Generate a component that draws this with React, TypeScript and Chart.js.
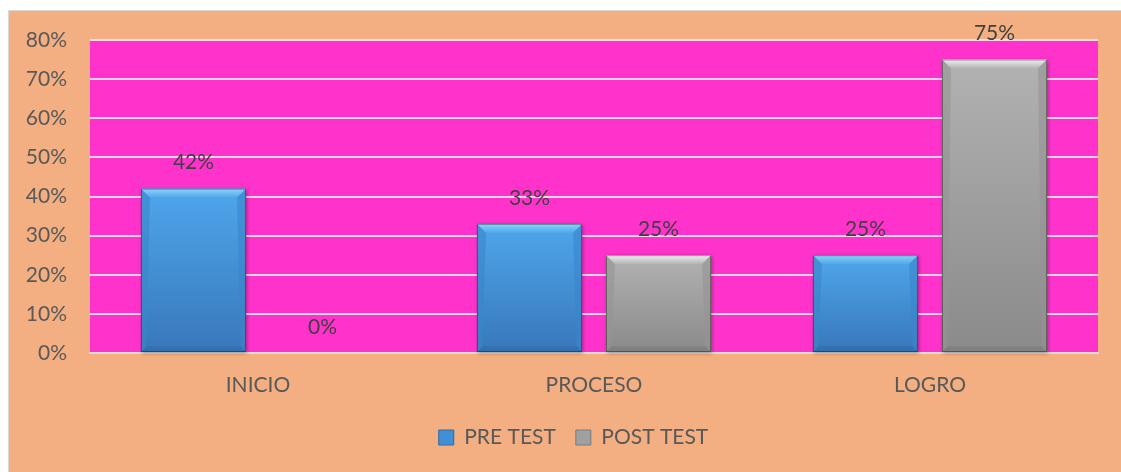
import React, { useEffect, useRef } from "react";
import { Chart, registerables } from "chart.js";

Chart.register(...registerables);

const categories = ["INICIO", "PROCESO", "LOGRO"];
const preTest = [42, 33, 25];
const postTest = [0, 25, 75];
const seriesNames = ["PRE TEST", "POST TEST"];
const yTicks = [0, 10, 20, 30, 40, 50, 60, 70, 80];

const FONT = "Lato, 'Liberation Sans', sans-serif";
const TEXT = "#595959";
const FS = 21;

const palettes = [
  { top: "#4FA6EC", bottom: "#3877BA", bevTop: "#8AD6F8", side: "#3A85CA", bottomBev: "#2F6AA6", solid: "#4190D6" },
  { top: "#B2B2B2", bottom: "#8A8A8A", bevTop: "#F0F0F0", side: "#959595", bottomBev: "#7A7A7A", solid: "#A0A0A0" },
];

const plotBg = {
  id: "plotBg",
  beforeDraw(chart: any) {
    const { ctx, chartArea: a } = chart;
    ctx.save();
    ctx.fillStyle = "#FF33CC";
    ctx.fillRect(a.left, a.top, a.right - a.left, a.bottom - a.top);
    ctx.restore();
  },
};

const legendShift = {
  id: "legendShift",
  afterLayout(chart: any) {
    const lg = chart.legend;
    if (lg) {
      lg.left += 20;
      lg.right += 20;
    }
  },
};

const bevel = {
  id: "bevel",
  afterDatasetsDraw(chart: any) {
    const { ctx } = chart;
    chart.data.datasets.forEach((ds: any, di: number) => {
      const meta = chart.getDatasetMeta(di);
      const p = palettes[di];
      meta.data.forEach((bar: any) => {
        const { x, y, base, width } = bar.getProps(["x", "y", "base", "width"], true);
        const h = base - y;
        if (h <= 1) return;
        const l = x - width / 2;
        const r = x + width / 2;
        const b = Math.min(9, h / 2);
        ctx.save();
        ctx.shadowColor = "rgba(0,0,0,0.35)";
        ctx.shadowBlur = 4;
        ctx.shadowOffsetX = 1;
        ctx.shadowOffsetY = 1;
        const g = ctx.createLinearGradient(0, y, 0, base);
        g.addColorStop(0, p.top);
        g.addColorStop(1, p.bottom);
        ctx.fillStyle = g;
        ctx.fillRect(l, y, width, h);
        ctx.shadowColor = "transparent";
        const gt = ctx.createLinearGradient(0, y, 0, y + b);
        gt.addColorStop(0, p.bevTop);
        gt.addColorStop(1, p.top);
        ctx.fillStyle = gt;
        ctx.beginPath();
        ctx.moveTo(l, y);
        ctx.lineTo(r, y);
        ctx.lineTo(r - b, y + b);
        ctx.lineTo(l + b, y + b);
        ctx.closePath();
        ctx.fill();
        ctx.globalAlpha = 0.6;
        ctx.fillStyle = p.side;
        ctx.beginPath();
        ctx.moveTo(l, y);
        ctx.lineTo(l + b, y + b);
        ctx.lineTo(l + b * 0.6, base - b * 0.6);
        ctx.lineTo(l, base);
        ctx.closePath();
        ctx.fill();
        ctx.beginPath();
        ctx.moveTo(r, y);
        ctx.lineTo(r - b, y + b);
        ctx.lineTo(r - b * 0.6, base - b * 0.6);
        ctx.lineTo(r, base);
        ctx.closePath();
        ctx.fill();
        ctx.fillStyle = p.bottomBev;
        ctx.beginPath();
        ctx.moveTo(l, base);
        ctx.lineTo(l + b * 0.6, base - b * 0.6);
        ctx.lineTo(r - b * 0.6, base - b * 0.6);
        ctx.lineTo(r, base);
        ctx.closePath();
        ctx.fill();
        ctx.globalAlpha = 1;
        ctx.strokeStyle = "rgba(0,0,0,0.35)";
        ctx.lineWidth = 1;
        ctx.strokeRect(l + 0.5, y + 0.5, width - 1, h - 1);
        ctx.restore();
      });
    });
  },
};

const dataLabels = {
  id: "dataLabels",
  afterDraw(chart: any) {
    const { ctx } = chart;
    ctx.save();
    ctx.font = `${FS}px ${FONT}`;
    ctx.fillStyle = "#404040";
    ctx.textAlign = "center";
    ctx.textBaseline = "middle";
    chart.data.datasets.forEach((ds: any, di: number) => {
      const meta = chart.getDatasetMeta(di);
      meta.data.forEach((bar: any, i: number) => {
        const { x, y } = bar.getProps(["x", "y"], true);
        ctx.fillText(`${ds.data[i]}%`, x, y - 26);
      });
    });
    ctx.restore();
  },
};

export default function App() {
  const ref = useRef<HTMLCanvasElement>(null);
  useEffect(() => {
    if (!ref.current) return;
    const chart = new Chart(ref.current, {
      type: "bar",
      data: {
        labels: categories,
        datasets: [
          { label: seriesNames[0], data: preTest, backgroundColor: palettes[0].solid, categoryPercentage: 0.768, barPercentage: 0.814 },
          { label: seriesNames[1], data: postTest, backgroundColor: palettes[1].solid, categoryPercentage: 0.768, barPercentage: 0.814 },
        ],
      },
      options: {
        animation: false,
        responsive: false,
        devicePixelRatio: 1,
        layout: { padding: { left: 0, right: 23, top: 29, bottom: 14 } },
        plugins: {
          tooltip: { enabled: false },
          legend: {
            position: "bottom",
            labels: {
              font: { family: FONT, size: FS },
              color: TEXT,
              boxWidth: 15,
              boxHeight: 15,
              padding: 20,
              generateLabels: () =>
                seriesNames.map((n, i) => ({
                  text: n,
                  fillStyle: palettes[i].solid,
                  strokeStyle: palettes[i].bottomBev,
                  lineWidth: 1,
                  fontColor: TEXT,
                  datasetIndex: i,
                  hidden: false,
                })),
            },
          },
        },
        scales: {
          x: {
            grid: { display: false, drawTicks: false },
            border: { display: true, color: "#D9D9D9", width: 2 },
            ticks: { font: { family: FONT, size: FS }, color: TEXT, padding: 20 },
            afterFit: (s: any) => {
              s.height = 54;
            },
          },
          y: {
            min: 0,
            max: 80,
            afterBuildTicks: (s: any) => {
              s.ticks = yTicks.map((v) => ({ value: v }));
            },
            grid: {
              color: "rgba(232,232,232,0.9)",
              lineWidth: 2,
              drawTicks: true,
              tickLength: 23,
              tickColor: "rgba(0,0,0,0)",
            },
            border: { display: false },
            ticks: {
              font: { family: FONT, size: FS },
              color: TEXT,
              padding: 0,
              callback: (v: any) => `${v}%`,
            },
            afterFit: (s: any) => {
              s.width = 81;
            },
          },
        },
      },
      plugins: [plotBg, legendShift, bevel, dataLabels],
    });
    return () => chart.destroy();
  }, []);
  return (
    <div
      style={{
        position: "fixed",
        left: 8,
        top: 10,
        width: 1113,
        height: 462,
        borderTop: "1px solid #D9D9D9",
        borderLeft: "1px solid #D9D9D9",
        background: "#F3AF82",
        overflow: "hidden",
      }}
    >
      <canvas ref={ref} width={1112} height={461} style={{ display: "block" }} />
    </div>
  );
}
